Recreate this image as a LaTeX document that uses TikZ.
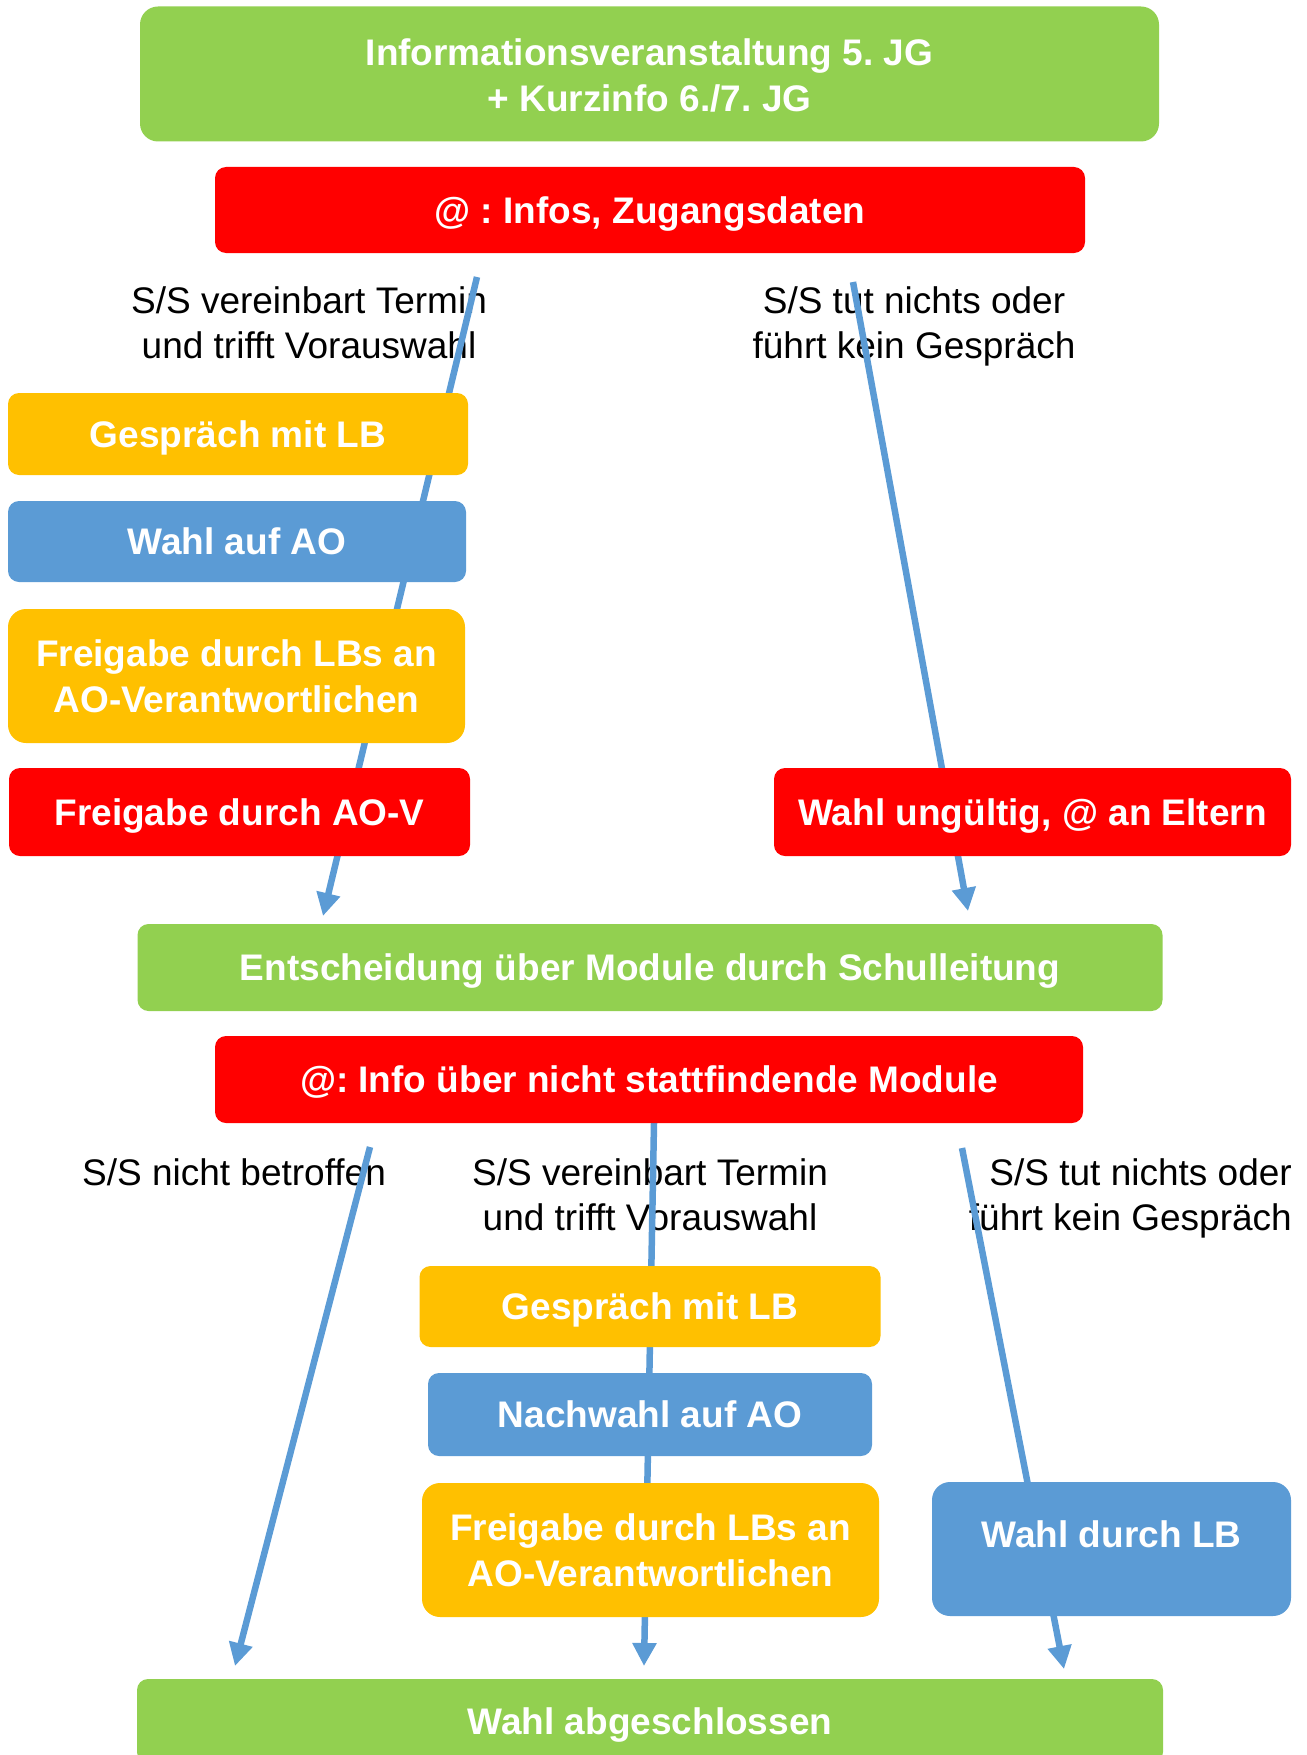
\documentclass[tikz,border=0pt]{standalone}
\usepackage{fontspec}
\setmainfont{Liberation Sans}
\usetikzlibrary{arrows.meta}
\definecolor{cgreen}{HTML}{92D050}
\definecolor{cred}{HTML}{FF0000}
\definecolor{corange}{HTML}{FFC000}
\definecolor{cblue}{HTML}{5B9BD5}
\frenchspacing
\begin{document}
\begin{tikzpicture}[x=1pt,y=-1pt,
  boxbase/.style={inner sep=0pt, text=white, align=center,
    font=\fontsize{37}{46}\selectfont\bfseries, text height=26pt, text depth=0pt},
  twoline/.style={text height=72pt, text depth=0pt},
  dims/.style 2 args={minimum width=#1pt, minimum height=#2pt},
  smallr/.style={rounded corners=11pt},
  bigr/.style={rounded corners=18pt},
  greenbox/.style={boxbase, fill=cgreen},
  redbox/.style={boxbase, fill=cred},
  orangebox/.style={boxbase, fill=corange},
  bluebox/.style={boxbase, fill=cblue},
  label/.style={inner sep=0pt, text=black, align=center,
    font=\fontsize{37}{45}\selectfont, text height=71pt, text depth=0pt},
  arrowline/.style={draw=cblue, line width=6.5pt,
    -{Triangle[length=23pt,width=23pt]}}
]
\useasboundingbox (0,0) rectangle (1306,1755);
\clip (0,0) rectangle (1306,1755);

% labels
\node[label] (l1) at (309,322.5) {S/S vereinbart Termin\\und trifft Vorauswahl};
\node[label] (l2) at (914,322.5) {S/S tut nichts oder\\führt kein Gespräch};
\node[label, text height=26pt] (l3) at (234,1172) {S/S nicht betroffen};
\node[label] (l4) at (650,1194.5) {S/S vereinbart Termin\\und trifft Vorauswahl};
\node[label, align=right, anchor=east] (l5) at (1292,1194.5) {S/S tut nichts oder\\führt kein Gespräch};

% connector end points
\coordinate (a1s) at (477,277);  \coordinate (a1e) at (323,916);
\coordinate (a2s) at (853,282);  \coordinate (a2e) at (968,911);
\coordinate (a3s) at (370,1147); \coordinate (a3e) at (235,1666);
\coordinate (a4s) at (654,1123); \coordinate (a4e) at (644,1666);
\coordinate (a5s) at (962,1148); \coordinate (a5e) at (1064,1669);

\draw[arrowline] (a1s) -- (a1e);
\draw[arrowline] (a2s) -- (a2e);
\draw[arrowline] (a3s) -- (a3e);
\draw[arrowline] (a4s) -- (a4e);
\draw[arrowline] (a5s) -- (a5e);

% boxes
\node[greenbox, bigr, twoline, text height=76pt, dims={1019}{135}] (info) at (649.5,74)
  {Informationsveranstaltung 5. JG\\+ Kurzinfo 6./7. JG};
\node[redbox, smallr, dims={870}{86}] (mail1) at (650,210) {@ : Infos, Zugangsdaten};

\node[orangebox, smallr, dims={460}{82}] (gl) at (238,434) {Gespräch mit LB};
\node[bluebox, smallr, dims={458}{81}] (wl) at (237,541.5) {Wahl auf AO};
\node[orangebox, bigr, twoline, dims={457}{134}] (fl) at (236.5,676)
  {Freigabe durch LBs an\\AO-Verantwortlichen};
\node[redbox, smallr, dims={461}{88}] (fav) at (239.5,812) {Freigabe durch AO-V};
\node[redbox, smallr, dims={517}{88}] (wu) at (1032.5,812) {Wahl ungültig, @ an Eltern};

\node[greenbox, smallr, dims={1025}{87}] (ent) at (650,967.5)
  {Entscheidung über Module durch Schulleitung};
\node[redbox, smallr, dims={868}{87}] (mail2) at (649,1079.5)
  {@: Info über nicht stattfindende Module};

\node[orangebox, smallr, dims={461}{81}] (gm) at (650,1306.5) {Gespräch mit LB};
\node[bluebox, smallr, dims={444}{83}] (nw) at (650,1414.5) {Nachwahl auf AO};
\node[orangebox, bigr, twoline, dims={457}{134}] (fm) at (650.5,1550)
  {Freigabe durch LBs an\\AO-Verantwortlichen};
\node[bluebox, bigr, text depth=30pt, dims={359}{134}] (wlb) at (1111.5,1549) {Wahl durch LB};

\node[greenbox, smallr, dims={1026}{84}] (done) at (650,1721) {Wahl abgeschlossen};
\end{tikzpicture}
\end{document}
